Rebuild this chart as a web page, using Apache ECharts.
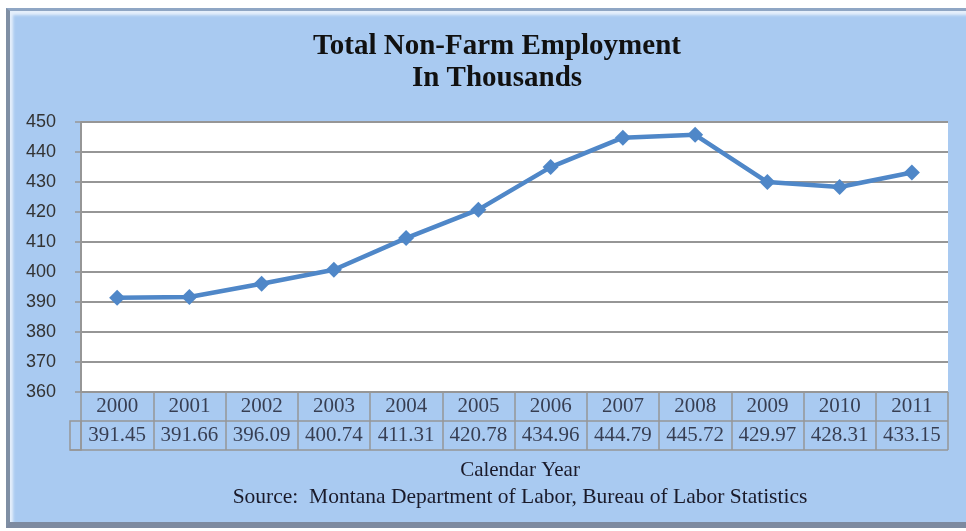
<!DOCTYPE html>
<html>
<head>
<meta charset="utf-8">
<script src="https://cdn.jsdelivr.net/npm/echarts@6/dist/echarts.min.js"></script>
<style>
  html, body { margin: 0; padding: 0; background: #ffffff; }
  #panel {
    position: absolute; left: 6px; top: 8px; width: 957px; height: 511px;
    background: #a9caf1;
    border-left: 4px solid #7f8fa4;
    border-top: 3px solid #8fa6c4;
    border-bottom: 6px solid #7d8aa0;
    box-shadow: inset 3px 4px 3px rgba(255,255,255,0.7);
  }
  #chart { position: absolute; left: 0; top: 0; width: 966px; height: 531px; }
</style>
</head>
<body>
<div id="panel"></div>
<div id="chart"></div>
<script>
const categories = ['2000','2001','2002','2003','2004','2005','2006','2007','2008','2009','2010','2011'];
const employment = [391.45, 391.66, 396.09, 400.74, 411.31, 420.78, 434.96, 444.79, 445.72, 429.97, 428.31, 433.15];
const yTicks = { min: 360, max: 450, interval: 10 };
const titleText = 'Total Non-Farm Employment\nIn Thousands';
const xAxisName = 'Calendar Year';
const sourceText = 'Source:  Montana Department of Labor, Bureau of Labor Statistics';
const tableRows = ['value', 'year'];

const serif = '"Liberation Serif", "DejaVu Serif", serif';
const sans = '"Liberation Sans", Arial, sans-serif';
const gridColor = '#969696';
const lineColor = '#4f87c8';

const tableData = [];
categories.forEach((c, i) => {
  tableData.push([c, 'year', c]);
  tableData.push([c, 'value', employment[i].toFixed(2)]);
});

const chart = echarts.init(document.getElementById('chart'), null, { renderer: 'canvas' });
chart.setOption({
  backgroundColor: 'transparent',
  animation: false,
  title: [
    {
      text: titleText, left: 492, top: 26, textAlign: 'center',
      textStyle: { fontFamily: serif, fontWeight: 'bold', fontSize: 29, lineHeight: 32, color: '#111' }
    },
    {
      text: xAxisName, left: 515, top: 455, textAlign: 'center',
      textStyle: { fontFamily: serif, fontWeight: 'normal', fontSize: 21, color: '#1a1a2a' }
    },
    {
      text: sourceText, left: 515, top: 481, textAlign: 'center',
      textStyle: { fontFamily: serif, fontWeight: 'normal', fontSize: 21.5, color: '#1a1a2a' }
    }
  ],
  grid: [
    { left: 81, top: 122, width: 867, height: 270, show: true, backgroundColor: '#ffffff', borderWidth: 0 },
    { left: 81, top: 392, width: 867, height: 58, show: false }
  ],
  xAxis: [
    {
      type: 'category', gridIndex: 0, data: categories, boundaryGap: true,
      axisLine: { show: false }, axisTick: { show: false }, axisLabel: { show: false },
      splitLine: { show: false }
    },
    {
      type: 'category', gridIndex: 1, data: categories, boundaryGap: true,
      axisLine: { show: false }, axisTick: { show: false }, axisLabel: { show: false },
      splitLine: { show: true, interval: 0, lineStyle: { color: gridColor, width: 1.5 } }
    }
  ],
  yAxis: [
    {
      type: 'value', gridIndex: 0, min: yTicks.min, max: yTicks.max, interval: yTicks.interval,
      axisLine: { show: true, lineStyle: { color: gridColor, width: 2 } },
      axisTick: { show: true, length: 6, lineStyle: { color: gridColor, width: 1.5 } },
      axisLabel: { fontFamily: sans, fontSize: 18, color: '#333', margin: 25 },
      splitLine: { show: true, lineStyle: { color: gridColor, width: 2 } }
    },
    {
      type: 'category', gridIndex: 1, data: tableRows, boundaryGap: true,
      axisLine: { show: false }, axisTick: { show: false }, axisLabel: { show: false },
      splitLine: { show: true, interval: 0, lineStyle: { color: gridColor, width: 1.5 } }
    }
  ],
  series: [
    {
      type: 'line', xAxisIndex: 0, yAxisIndex: 0, data: employment,
      symbol: 'diamond', symbolSize: 16,
      lineStyle: { color: lineColor, width: 4.5 },
      itemStyle: { color: lineColor }
    },
    {
      type: 'scatter', xAxisIndex: 1, yAxisIndex: 1, data: tableData,
      symbolSize: 1, itemStyle: { color: 'rgba(0,0,0,0)' },
      label: {
        show: true, position: 'inside', formatter: p => p.value[2],
        fontFamily: serif, fontSize: 21, color: '#1a1a2a'
      },
      silent: true
    }
  ],
  graphic: [
    {
      type: 'rect', shape: { x: 70, y: 421, width: 11, height: 29 },
      style: { fill: 'none', stroke: gridColor, lineWidth: 1.5 }
    },
    {
      type: 'line', shape: { x1: 70, y1: 450, x2: 81, y2: 450 },
      style: { stroke: gridColor, lineWidth: 1.5 }
    }
  ]
});
</script>
</body>
</html>
